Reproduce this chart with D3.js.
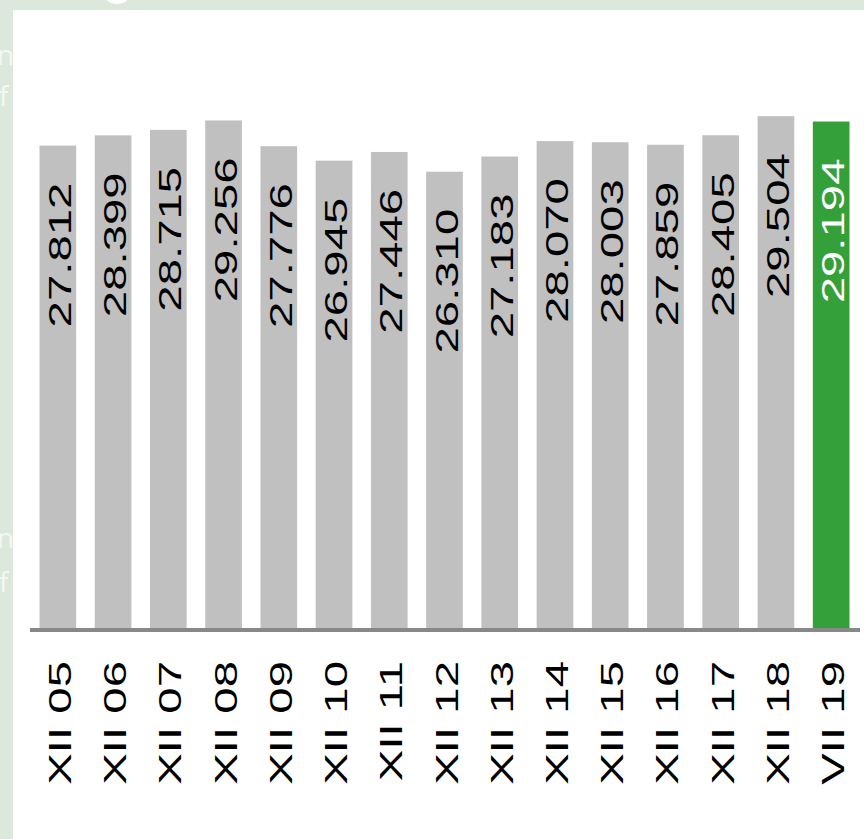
<!DOCTYPE html>
<html>
<head>
<meta charset="utf-8">
<script src="https://cdn.jsdelivr.net/npm/d3@7"></script>
<style>
  body { margin: 0; background: #dbe8db; }
  svg { display: block; }
</style>
</head>
<body>
<script>
var categories = ['XII 05', 'XII 06', 'XII 07', 'XII 08', 'XII 09', 'XII 10', 'XII 11', 'XII 12',
                  'XII 13', 'XII 14', 'XII 15', 'XII 16', 'XII 17', 'XII 18', 'VII 19'];
var values = [27.812, 28.399, 28.715, 29.256, 27.776, 26.945, 27.446, 26.310,
              27.183, 28.070, 28.003, 27.859, 28.405, 29.504, 29.194];
var highlight = 'VII 19';

var screen = {
  width: 864,
  height: 839
};

var data = categories.map(function(c, i){
  return { name: c, value: values[i] };
});

var svg = d3.select('body').append('svg')
            .attr('width', screen.width)
            .attr('height', screen.height);

// page behind the chart panel
svg.append('rect')
   .attr('width', screen.width)
   .attr('height', screen.height)
   .attr('fill', '#dbe8db');

svg.append('circle')
   .attr('cx', 117)
   .attr('cy', -12)
   .attr('r', 16)
   .attr('fill', '#fff');

var ghost = [
  { t: 'n', x: -3, y: 65 },
  { t: 'f', x: -1, y: 106 },
  { t: 'n', x: -3, y: 548 },
  { t: 'f', x: -1, y: 592 }
];
svg.selectAll('.ghost')
   .data(ghost)
   .enter()
   .append('text')
   .classed('ghost', true)
   .attr('x', function(d){ return d.x; })
   .attr('y', function(d){ return d.y; })
   .attr('font-family', 'Open Sans')
   .attr('font-size', 28)
   .attr('fill', '#fff')
   .attr('fill-opacity', 0.7)
   .text(function(d){ return d.t; });

svg.append('rect')
   .attr('x', 13)
   .attr('y', 10)
   .attr('width', screen.width - 13)
   .attr('height', screen.height - 10)
   .attr('fill', '#fff');

var xScale = d3.scaleBand()
               .domain(categories)
               .range([39.5, 849.5])
               .paddingInner(0.336)
               .paddingOuter(0);

var yScale = d3.scaleLinear()
               .domain([0, 30])
               .range([629.5, 107.5]);

var fmt = d3.format('.3f');
var stretch = 1.48;
var font_size = 32;

var bars = svg.selectAll('.bar')
              .data(data)
              .enter()
              .append('g')
              .classed('bar', true);

bars.append('rect')
    .attr('x', function(d){ return xScale(d.name); })
    .attr('y', function(d){ return yScale(d.value); })
    .attr('width', xScale.bandwidth())
    .attr('height', function(d){ return yScale(0) - yScale(d.value); })
    .attr('fill', function(d){ return d.name == highlight ? '#34a039' : '#c0c0c0'; });

bars.append('text')
    .attr('transform', function(d){
      var cx = xScale(d.name) + xScale.bandwidth() / 2 + 13;
      return 'translate(' + cx + ',' + (yScale(d.value) + 37) + ') rotate(-90) scale(' + stretch + ',1)';
    })
    .attr('text-anchor', 'end')
    .attr('font-family', 'Liberation Sans, Arial, sans-serif')
    .attr('font-size', font_size)
    .attr('fill', function(d){ return d.name == highlight ? '#fff' : '#000'; })
    .text(function(d){ return fmt(d.value); });

svg.append('line')
   .classed('baseline', true)
   .attr('x1', 30)
   .attr('x2', 860)
   .attr('y1', 630)
   .attr('y2', 630)
   .attr('stroke', '#888')
   .attr('stroke-width', 4);

svg.selectAll('.cat')
   .data(data)
   .enter()
   .append('text')
   .classed('cat', true)
   .attr('transform', function(d){
     var cx = xScale(d.name) + xScale.bandwidth() / 2 + 13;
     return 'translate(' + cx + ',661) rotate(-90) scale(' + stretch + ',1)';
   })
   .attr('text-anchor', 'end')
   .attr('font-family', 'Liberation Sans, Arial, sans-serif')
   .attr('font-size', font_size)
   .attr('fill', '#000')
   .text(function(d){ return d.name; });
</script>
</body>
</html>
